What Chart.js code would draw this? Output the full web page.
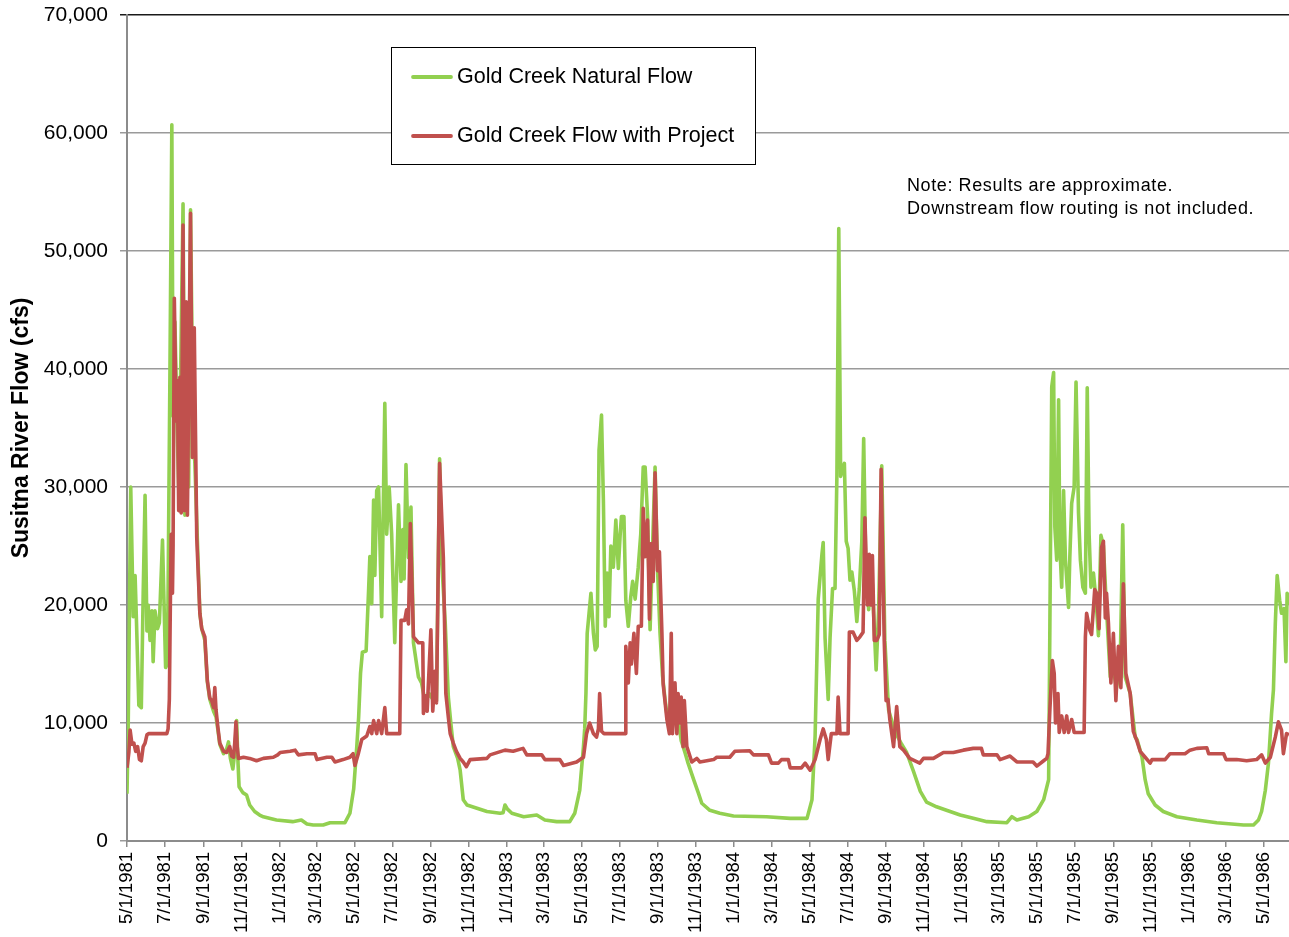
<!DOCTYPE html>
<html>
<head>
<meta charset="utf-8">
<title>Susitna River Flow at Gold Creek</title>
<script src="https://cdn.jsdelivr.net/npm/chart.js@4.4.1/dist/chart.umd.min.js"></script>
<style>
  html, body { margin: 0; padding: 0; background: #fff; }
  #wrap { width: 1289px; height: 937px; }
</style>
</head>
<body>
<div id="wrap"><canvas id="flow-chart" width="1289" height="937"></canvas></div>
<script>
// day 0 of the series
const startDate = "5/1/1981";

const tickLabels = [
  "5/1/1981", "7/1/1981", "9/1/1981", "11/1/1981", "1/1/1982", "3/1/1982",
  "5/1/1982", "7/1/1982", "9/1/1982", "11/1/1982", "1/1/1983", "3/1/1983",
  "5/1/1983", "7/1/1983", "9/1/1983", "11/1/1983", "1/1/1984", "3/1/1984",
  "5/1/1984", "7/1/1984", "9/1/1984", "11/1/1984", "1/1/1985", "3/1/1985",
  "5/1/1985", "7/1/1985", "9/1/1985", "11/1/1985", "1/1/1986", "3/1/1986",
  "5/1/1986"
];

const seriesNames = ["Gold Creek Natural Flow", "Gold Creek Flow with Project"];
const noteLines = ["Note: Results are approximate.", "Downstream flow routing is not included."];

// [days since start, cfs]
const naturalFlow = [
  [0,4000],[2,10000],[6,30000],[10,19000],[13,22500],[15,19000],[19,11500],[23,11300],[26,21000],[29,29300],
  [32,17800],[34,20000],[37,17000],[40,19500],[42,15200],[45,19500],[49,18000],[52,18500],[57,25500],[62,14700],
  [65,15000],[69,40000],[72,60700],[74,36000],[77,44000],[80,36000],[83,30000],[86,39000],[90,54000],[93,27600],
  [96,45000],[99,30000],[102,53500],[106,35000],[109,32000],[113,25500],[117,19300],[120,18000],[125,17000],[129,13500],
  [133,12000],[139,11000],[143,10500],[146,9400],[149,8200],[155,7400],[160,7800],[163,8400],[166,7000],[170,6100],
  [173,7500],[176,10200],[178,7000],[180,4600],[186,4100],[192,3900],[197,3050],[205,2500],[213,2200],[219,2050],
  [240,1780],[266,1640],[272,1700],[280,1780],[289,1440],[299,1360],[315,1360],[326,1550],[350,1550],[358,2350],
  [364,4400],[369,8000],[372,10500],[375,14200],[378,16000],[384,16100],[388,21300],[390,24100],[393,20100],[396,28900],
  [398,22500],[401,29700],[404,30000],[409,19000],[414,37100],[417,26000],[421,30000],[425,26000],[430,16800],[436,28500],
  [440,22000],[443,26400],[445,22200],[448,31900],[452,24000],[456,28300],[460,16800],[468,13900],[473,13400],[479,11700],
  [485,12500],[491,12000],[497,11900],[502,32400],[505,24000],[511,18500],[516,12200],[520,10000],[524,8000],[531,7000],
  [535,6000],[540,3500],[546,3050],[562,2770],[578,2500],[599,2350],[604,2400],[607,3050],[611,2700],[618,2350],
  [637,2060],[658,2200],[671,1780],[690,1640],[711,1640],[719,2350],[727,4300],[733,8000],[735,9500],[737,12500],
  [739,17600],[742,19300],[745,21000],[749,17600],[752,16200],[755,16500],[758,33100],[762,36100],[765,28900],[768,18200],
  [771,22700],[774,19000],[777,25000],[781,23200],[785,27200],[789,23100],[792,26000],[794,27500],[798,27500],[801,20400],
  [805,18200],[809,20700],[812,22000],[816,20500],[821,23200],[825,26000],[829,31700],[832,31700],[836,27500],[840,17900],
  [844,25000],[848,31700],[852,23000],[856,17600],[860,14000],[864,12000],[868,10300],[872,9500],[877,10000],[882,10500],
  [886,10000],[890,8500],[896,7500],[901,6600],[910,5200],[918,4000],[923,3200],[936,2600],[952,2350],[974,2120],
  [1027,2060],[1065,1920],[1092,1920],[1100,3500],[1105,8900],[1108,15800],[1110,20500],[1116,24300],[1118,25300],[1121,17200],
  [1124,14100],[1126,12000],[1129,17200],[1133,21400],[1137,21400],[1140,31000],[1143,51900],[1146,30900],[1149,31500],[1152,32000],
  [1155,25400],[1158,24800],[1161,22100],[1164,22800],[1168,21200],[1172,18600],[1176,21400],[1180,25400],[1183,34100],[1186,24500],
  [1191,19600],[1195,24000],[1199,19200],[1203,14500],[1207,19500],[1212,31800],[1217,17000],[1223,11100],[1229,10000],[1236,9000],
  [1244,8200],[1252,7500],[1263,5900],[1274,4200],[1284,3300],[1300,2900],[1316,2600],[1338,2200],[1359,1920],[1381,1640],
  [1413,1550],[1421,2060],[1429,1780],[1448,2060],[1461,2500],[1472,3500],[1480,5200],[1482,18200],[1485,38500],[1488,39700],
  [1490,26600],[1493,23800],[1496,37400],[1498,25000],[1501,21500],[1504,29700],[1507,23800],[1512,19800],[1514,24000],[1517,28600],
  [1521,30000],[1524,38900],[1528,27800],[1531,23800],[1535,21500],[1539,21000],[1542,38400],[1545,26000],[1548,21500],[1552,22700],
  [1556,20500],[1560,17400],[1564,25900],[1568,25000],[1573,19600],[1579,13900],[1584,14500],[1589,13000],[1595,15000],[1599,26800],
  [1603,13900],[1611,12500],[1619,8800],[1622,8600],[1630,7100],[1635,5200],[1640,4000],[1651,3050],[1664,2500],[1686,2060],
  [1718,1780],[1750,1550],[1793,1360],[1809,1360],[1817,1780],[1822,2500],[1828,4300],[1833,6600],[1838,10800],[1841,12800],
  [1844,18400],[1847,22500],[1851,20400],[1854,19300],[1858,19700],[1861,15200],[1863,21000],[1866,20000]
];

const projectFlow = [
  [0,6200],[3,7500],[5,9400],[8,8200],[11,8300],[14,7600],[17,8000],[20,6900],[23,6800],[26,8000],
  [29,8300],[32,9000],[35,9100],[64,9100],[66,9500],[68,12000],[70,22000],[71,26000],[73,21000],[74,25000],
  [76,46000],[79,35600],[81,39000],[83,28000],[85,39300],[87,27800],[90,52200],[92,28000],[95,45700],[97,27600],
  [102,53200],[105,32500],[108,43500],[112,25700],[117,19300],[120,18000],[125,17300],[129,13600],[133,12100],[136,11900],
  [139,11300],[141,13000],[143,11100],[146,9600],[149,8300],[155,7600],[160,7500],[165,8000],[168,7200],[171,7100],
  [173,8300],[175,10100],[177,8000],[179,7000],[187,7100],[197,7000],[208,6800],[219,7000],[235,7100],[242,7300],
  [246,7500],[262,7600],[270,7700],[275,7300],[289,7400],[302,7400],[305,6900],[321,7100],[329,7100],[334,6700],
  [347,6900],[358,7100],[363,7400],[366,6400],[371,7300],[377,8600],[385,8900],[390,9700],[393,9100],[396,10200],
  [401,9100],[404,10200],[409,9100],[414,11300],[417,9100],[438,9100],[440,18700],[446,18700],[449,19600],[452,18400],
  [455,26900],[460,17300],[468,16800],[475,16800],[476,10800],[479,12300],[482,11000],[488,17900],[491,11000],[495,14400],
  [497,11700],[502,32000],[508,24000],[512,12500],[516,10500],[519,9100],[524,8300],[529,7600],[535,7000],[540,6700],
  [545,6300],[551,6900],[578,7000],[583,7300],[607,7700],[620,7600],[636,7850],[642,7300],[666,7300],[671,6900],
  [695,6900],[701,6400],[722,6700],[733,7100],[738,9100],[743,10000],[749,9100],[754,8800],[757,9500],[759,12500],
  [762,9300],[766,9100],[800,9100],[801,16500],[805,13400],[808,16800],[810,15000],[814,17600],[818,14200],[821,18200],
  [826,18200],[829,28200],[832,24100],[836,27200],[839,18800],[842,25200],[845,22000],[848,31200],[852,22900],[855,24500],
  [859,17600],[861,13300],[867,10300],[871,9100],[874,17600],[876,9100],[880,13400],[883,9100],[885,12500],[888,10000],
  [890,12200],[893,8000],[895,11900],[899,8000],[907,6700],[915,7000],[920,6700],[942,6900],[947,7100],[968,7100],
  [976,7600],[1000,7650],[1006,7300],[1030,7300],[1035,6600],[1046,6600],[1051,6900],[1062,6900],[1065,6200],[1083,6200],
  [1089,6600],[1097,6000],[1105,6900],[1113,8600],[1118,9500],[1123,8600],[1126,6900],[1131,9100],[1140,9100],[1142,12200],
  [1145,9100],[1158,9100],[1160,17700],[1166,17700],[1172,17000],[1177,17300],[1182,17700],[1185,27400],[1189,20000],[1192,24300],
  [1194,20000],[1197,24200],[1200,17000],[1204,17000],[1208,17500],[1211,31500],[1216,17000],[1219,11900],[1222,12000],[1225,10300],
  [1231,8000],[1236,11400],[1241,8000],[1247,7700],[1257,7000],[1273,6600],[1279,7000],[1295,7000],[1311,7500],[1327,7500],
  [1343,7700],[1359,7850],[1372,7850],[1375,7300],[1397,7300],[1402,6900],[1418,7200],[1429,6700],[1455,6700],[1461,6350],
  [1472,6800],[1477,7000],[1479,7400],[1482,11100],[1486,15300],[1489,14200],[1491,10000],[1495,12500],[1497,9200],[1501,10600],
  [1505,9200],[1509,10600],[1512,9200],[1517,10300],[1521,9200],[1537,9200],[1539,17300],[1541,19300],[1546,17900],[1549,17500],
  [1554,21300],[1557,21000],[1561,18000],[1565,24900],[1568,25400],[1571,18900],[1573,21000],[1576,18500],[1580,13400],[1584,17600],
  [1588,11900],[1592,16500],[1596,13000],[1600,21800],[1604,14200],[1611,12500],[1616,9300],[1621,8600],[1627,7600],[1635,7100],
  [1643,6600],[1646,6900],[1667,6900],[1675,7400],[1699,7400],[1707,7700],[1718,7850],[1734,7900],[1737,7400],[1761,7400],
  [1765,6900],[1782,6900],[1798,6800],[1814,6900],[1822,7300],[1828,6600],[1836,7100],[1844,8800],[1849,10100],[1854,9400],
  [1857,7400],[1862,9100],[1866,9000]
];

function dayOffset(label) {
  const [m, d, y] = label.split("/").map(Number);
  const [m0, d0, y0] = startDate.split("/").map(Number);
  return Math.round((Date.UTC(y, m - 1, d) - Date.UTC(y0, m0 - 1, d0)) / 86400000);
}

const tickDays = tickLabels.map(dayOffset);
const lastDay = Math.max(naturalFlow[naturalFlow.length - 1][0], projectFlow[projectFlow.length - 1][0]);
const toPoints = (rows) => rows.map(([x, y]) => ({ x, y }));

const FONT = "'Liberation Sans', Arial, sans-serif";

// legend box and note drawn inside the plot, like the spreadsheet original
const boxLegend = {
  id: "boxLegend",
  afterDraw(chart) {
    const ctx = chart.ctx;
    ctx.save();
    ctx.fillStyle = "#fff";
    ctx.fillRect(391, 47, 364, 117);
    ctx.strokeStyle = "#000";
    ctx.lineWidth = 1;
    ctx.strokeRect(391.5, 47.5, 364, 117);

    ctx.textBaseline = "middle";
    ctx.font = "21.5px " + FONT;
    chart.data.datasets.forEach((ds, i) => {
      const y = 77 + i * 59;
      ctx.strokeStyle = ds.borderColor;
      ctx.lineWidth = 3.8;
      ctx.lineCap = "round";
      ctx.beginPath();
      ctx.moveTo(413, y);
      ctx.lineTo(451, y);
      ctx.stroke();
      ctx.fillStyle = "#000";
      ctx.fillText(ds.label, 457, y);
    });

    ctx.font = "18px " + FONT;
    ctx.letterSpacing = "0.6px";
    noteLines.forEach((t, i) => ctx.fillText(t, 907, 186 + i * 23));
    ctx.restore();
  }
};

new Chart(document.getElementById("flow-chart"), {
  type: "line",
  data: {
    datasets: [
      {
        label: seriesNames[0],
        data: toPoints(naturalFlow),
        borderColor: "#92D050",
        borderWidth: 3.6,
        borderJoinStyle: "round",
        pointRadius: 0,
        tension: 0,
        order: 1,
      },
      {
        label: seriesNames[1],
        data: toPoints(projectFlow),
        borderColor: "#C0504D",
        borderWidth: 3.6,
        borderJoinStyle: "round",
        pointRadius: 0,
        tension: 0,
        order: 0,
      },
    ],
  },
  options: {
    responsive: false,
    animation: false,
    layout: { padding: { top: 15, right: 0, left: 0, bottom: 0 } },
    plugins: {
      legend: { display: false },
      tooltip: { enabled: false },
    },
    scales: {
      x: {
        type: "linear",
        min: 0,
        max: lastDay,
        afterBuildTicks(scale) {
          scale.ticks = tickDays.map((v) => ({ value: v }));
        },
        afterFit(scale) {
          scale.height = 96;
          scale.paddingLeft = 0;
          scale.paddingRight = 0;
        },
        ticks: {
          autoSkip: false,
          minRotation: 90,
          maxRotation: 90,
          padding: 5,
          color: "#000",
          font: { family: FONT, size: 18.5 },
          callback: (value, index) => tickLabels[index],
        },
        grid: {
          drawOnChartArea: false,
          drawTicks: true,
          tickLength: 6,
          color: "#8c8c8c",
          lineWidth: 1.5,
        },
        border: { color: "#8c8c8c", width: 2 },
      },
      y: {
        min: 0,
        max: 70000,
        afterFit(scale) {
          scale.width = 127;
          scale.paddingTop = 0;
          scale.paddingBottom = 0;
        },
        ticks: {
          stepSize: 10000,
          padding: 12,
          color: "#000",
          font: { family: FONT, size: 21 },
          callback: (value) => value.toLocaleString("en-US"),
        },
        grid: {
          tickLength: 7,
          color: (c) => (c.tick && c.tick.value === 70000 ? "#1a1a1a" : "#9a9a9a"),
          lineWidth: 1.5,
        },
        border: { color: "#8c8c8c", width: 2 },
        title: {
          display: true,
          text: "Susitna River Flow (cfs)",
          color: "#000",
          padding: { top: 8, bottom: 0 },
          font: { family: FONT, size: 23, weight: "bold" },
        },
      },
    },
  },
  plugins: [boxLegend],
});
</script>
</body>
</html>
